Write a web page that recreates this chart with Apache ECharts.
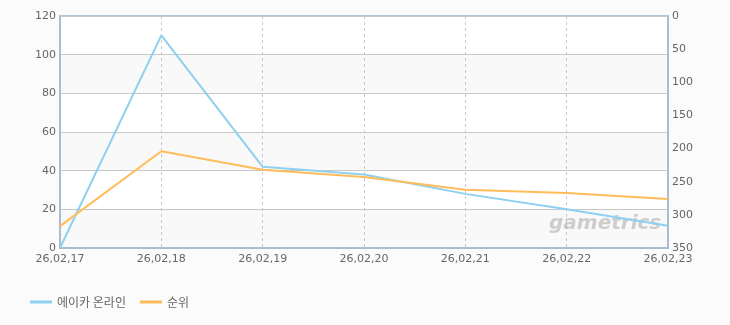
<!DOCTYPE html>
<html><head><meta charset="utf-8">
<script src="https://cdn.jsdelivr.net/npm/echarts@6/dist/echarts.min.js"></script>
<style>html,body{margin:0;padding:0;background:#fbfbfb;}#c{width:730px;height:325px;}</style>
</head><body><div id="c"></div>
<script>
const categories = ['26,02,17','26,02,18','26,02,19','26,02,20','26,02,21','26,02,22','26,02,23'];
const seriesNames = ['에이카 온라인','순위'];
const usersValues = [0, 110, 42, 38, 28, 20, 11.5];
const rankValues = [317, 204, 232, 243, 262, 267, 276];
const leftTicks = {min: 0, max: 120, interval: 20};
const rightTicks = {min: 0, max: 350, interval: 50};

const chart = echarts.init(document.getElementById('c'), null, {renderer: 'canvas'});
const labelStyle = {color: '#666', fontSize: 11, fontFamily: 'DejaVu Sans, sans-serif'};
chart.setOption({
  backgroundColor: '#fbfbfb',
  animation: false,
  grid: {left: 60, right: 62, top: 16, bottom: 77, show: true, borderColor: '#b3c5d7', borderWidth: 2, backgroundColor: 'transparent'},
  legend: {
    left: 25, top: 291, itemWidth: 22, itemHeight: 3, itemGap: 14,
    icon: 'rect',
    textStyle: {color: '#666', fontSize: 12, fontFamily: 'Noto Sans CJK KR, sans-serif'},
    data: seriesNames
  },
  xAxis: {
    type: 'category', data: categories, boundaryGap: false,
    axisLine: {show: true, lineStyle: {color: '#a9bcd0', width: 2}}, axisTick: {show: false},
    axisLabel: Object.assign({margin: 6, showMaxLabel: true, showMinLabel: true, interval: 0}, labelStyle),
    splitLine: {show: true, lineStyle: {color: '#c8c8c8', type: [3, 3], width: 1}}
  },
  yAxis: [{
    type: 'value', min: leftTicks.min, max: leftTicks.max, interval: leftTicks.interval,
    axisLine: {show: true, lineStyle: {color: '#a9bcd0', width: 2}}, axisTick: {show: false},
    axisLabel: Object.assign({margin: 4}, labelStyle),
    splitLine: {show: true, lineStyle: {color: '#c8c8c8', width: 1}},
    splitArea: {show: true, areaStyle: {color: ['#f9f9f9', '#ffffff']}}
  }, {
    type: 'value', inverse: true, min: rightTicks.min, max: rightTicks.max, interval: rightTicks.interval,
    axisLine: {show: true, lineStyle: {color: '#a9bcd0', width: 2}}, axisTick: {show: false},
    axisLabel: Object.assign({margin: 4}, labelStyle),
    splitLine: {show: false}
  }],
  graphic: [{
    type: 'text', left: 549, top: 214, z: 2,
    style: {text: 'gametrics', fill: 'rgba(150,150,150,0.45)', font: 'italic bold 20px "DejaVu Sans", sans-serif'}
  }],
  series: [{
    name: seriesNames[0], type: 'line', yAxisIndex: 0, data: usersValues,
    symbol: 'none', lineStyle: {color: '#8fd0f0', width: 2}, itemStyle: {color: '#8fd0f0'}, z: 3
  }, {
    name: seriesNames[1], type: 'line', yAxisIndex: 1, data: rankValues,
    symbol: 'none', lineStyle: {color: '#ffbc5a', width: 2}, itemStyle: {color: '#ffbc5a'}, z: 4
  }]
});
</script></body></html>
